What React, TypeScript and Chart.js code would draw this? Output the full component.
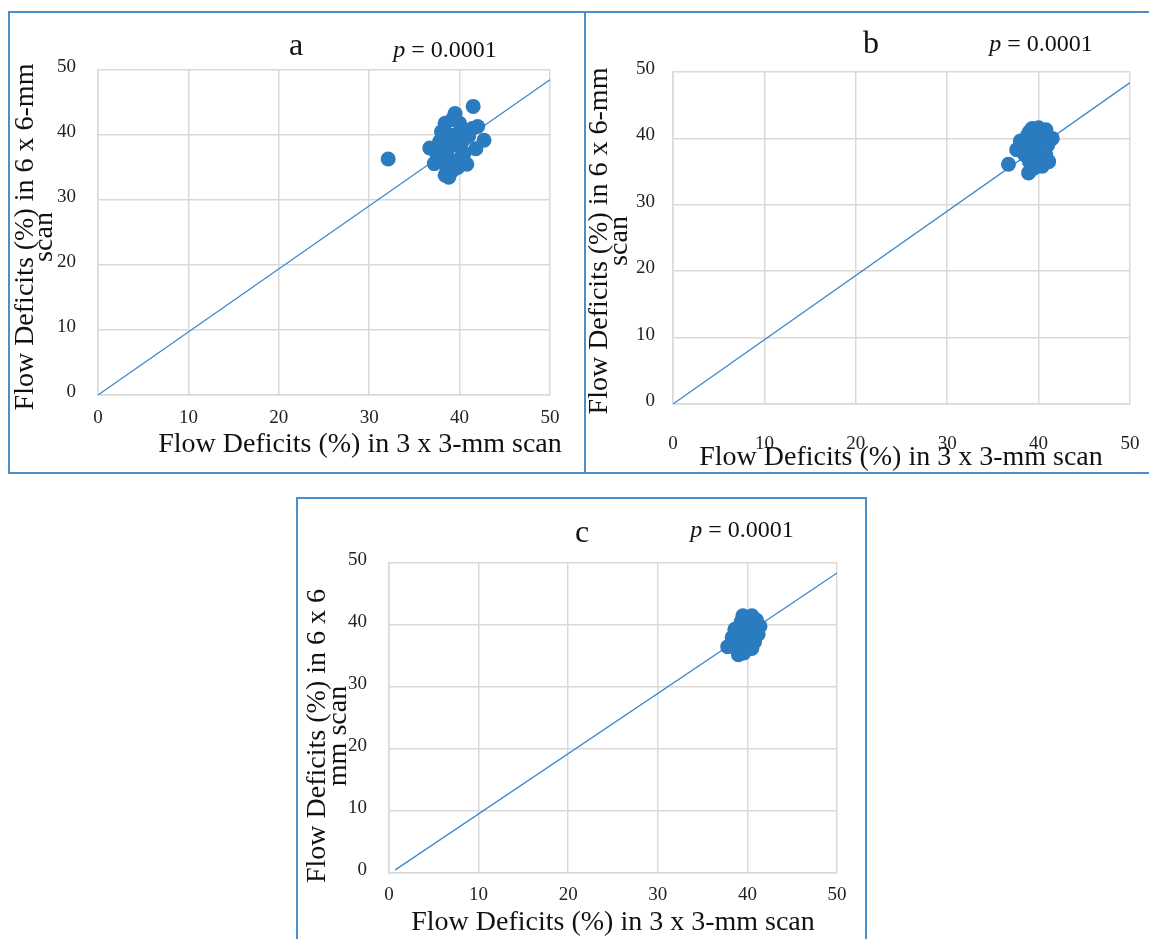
import React, { useEffect, useRef } from "react";
import { Chart, registerables } from "chart.js";

Chart.register(...registerables);

// ---------- data ----------
const tickValues = [0, 10, 20, 30, 40, 50];

const aX = [32.1, 41.5, 39.5, 39.2, 38.4, 38.0, 42.0, 41.4, 42.7, 41.8, 36.7, 37.8, 39.0, 40.0, 40.3, 39.5, 38.6, 40.5, 37.2, 38.0, 39.2, 40.1, 40.8, 38.6, 39.2, 38.4, 38.8, 39.8, 37.5, 40.0, 38.9, 41.0];
const aY = [36.3, 44.4, 43.3, 42.4, 41.8, 40.5, 41.3, 41.0, 39.2, 37.9, 38.0, 39.0, 40.0, 40.5, 39.0, 38.5, 37.5, 37.2, 35.6, 36.0, 36.0, 36.5, 35.5, 34.8, 34.5, 33.8, 33.5, 35.0, 37.0, 41.8, 39.2, 39.8];

const bX = [36.7, 37.6, 38.0, 38.8, 39.3, 40.0, 40.8, 41.5, 41.0, 40.8, 41.1, 40.4, 39.5, 38.9, 39.0, 38.5, 39.5, 40.0, 39.3, 40.2, 39.7, 38.6, 40.5, 39.0];
const bY = [36.1, 38.3, 39.6, 40.5, 41.5, 41.6, 41.3, 40.0, 39.0, 37.5, 36.5, 35.8, 35.5, 34.8, 36.5, 37.5, 38.0, 39.5, 39.8, 37.0, 40.5, 38.8, 40.5, 41.0];

const cX = [37.8, 38.3, 38.6, 39.3, 39.5, 40.5, 41.0, 41.4, 41.2, 40.8, 40.5, 39.6, 39.0, 38.8, 39.5, 40.0, 39.2, 40.2, 40.0, 39.7, 38.5];
const cY = [36.5, 38.0, 39.3, 40.5, 41.5, 41.5, 40.8, 39.8, 38.5, 37.3, 36.2, 35.5, 35.2, 36.8, 37.5, 38.8, 39.0, 40.0, 37.0, 36.3, 37.5];

const fitAX = [0, 50];
const fitAY = [0, 48.5];
const fitBX = [0, 50];
const fitBY = [0, 48.4];
const fitCX = [0.7, 50];
const fitCY = [0.5, 48.4];

const panelLetters = ["a", "b", "c"];
const pValueLabel = " = 0.0001";
const xTitle = "Flow Deficits (%) in 3 x 3-mm scan";
const yTitleAB = ["Flow Deficits (%) in 6 x 6-mm", "scan"];
const yTitleC = ["Flow Deficits (%) in 6 x 6", "mm scan"];

// ---------- styles ----------
const W = 1149;
const H = 939;
const FONT = '"Liberation Serif", "Times New Roman", serif';
const BLUE = "#2B7BBF";
const LINE_BLUE = "#3C8AD0";
const GRID = "#D9D9D9";
const BORDER_BLUE = "#4A8ECC";

type Layout = {
  l: number; r: number; t: number; b: number;
  yPad: number; xPad: number; xLineHeight: number;
  letterX: number; letterY: number;
  pX: number; pY: number;
  xTitleX: number; xTitleY: number;
  yBase: number[]; yCenter: number;
};

const layouts: Layout[] = [
  { l: 98, r: 550, t: 70, b: 395, yPad: 22, xPad: 12, xLineHeight: 1.2, letterX: 296, letterY: 55, pX: 445, pY: 57, xTitleX: 360, xTitleY: 452, yBase: [33, 52], yCenter: 237 },
  { l: 673, r: 1130, t: 72, b: 404, yPad: 18, xPad: 6, xLineHeight: 3.6, letterX: 871, letterY: 53, pX: 1041, pY: 51, xTitleX: 901, xTitleY: 465, yBase: [607, 627], yCenter: 241 },
  { l: 389, r: 837, t: 563, b: 873, yPad: 22, xPad: 11, xLineHeight: 1.2, letterX: 582, letterY: 542, pX: 742, pY: 537, xTitleX: 613, xTitleY: 930, yBase: [325, 346], yCenter: 736 },
];

const textPlugin = {
  id: "panelText",
  afterDraw(chart: any, _args: any, opts: any) {
    const ctx = chart.ctx as CanvasRenderingContext2D;
    ctx.save();
    ctx.fillStyle = "#111";
    ctx.textBaseline = "alphabetic";
    // letter
    ctx.font = `32px ${FONT}`;
    ctx.textAlign = "center";
    ctx.fillText(opts.letter, opts.letterX, opts.letterY);
    // p value
    ctx.font = `italic 24px ${FONT}`;
    const pw = ctx.measureText("p").width;
    ctx.font = `24px ${FONT}`;
    const rw = ctx.measureText(pValueLabel).width;
    const x0 = opts.pX - (pw + rw) / 2;
    ctx.textAlign = "left";
    ctx.font = `italic 24px ${FONT}`;
    ctx.fillText("p", x0, opts.pY);
    ctx.font = `24px ${FONT}`;
    ctx.fillText(pValueLabel, x0 + pw, opts.pY);
    // x title
    ctx.font = `28px ${FONT}`;
    ctx.textAlign = "center";
    ctx.fillText(opts.xTitle, opts.xTitleX, opts.xTitleY);
    // y title
    (opts.yLines as string[]).forEach((line, i) => {
      ctx.save();
      ctx.translate(opts.yBase[i], opts.yCenter);
      ctx.rotate(-Math.PI / 2);
      ctx.fillText(line, 0, 0);
      ctx.restore();
    });
    ctx.restore();
  },
};

const YW = 60;
const XH = 50;

function makeConfig(xs: number[], ys: number[], fx: number[], fy: number[], lay: Layout, letter: string, yLines: string[]): any {
  return {
    type: "scatter",
    data: {
      datasets: [
        {
          type: "scatter",
          data: xs.map((x, i) => ({ x, y: ys[i] })),
          backgroundColor: BLUE,
          borderWidth: 0,
          pointRadius: 7.5,
          order: 0,
        },
        {
          type: "line",
          data: fx.map((x, i) => ({ x, y: fy[i] })),
          borderColor: LINE_BLUE,
          borderWidth: 1.3,
          pointRadius: 0,
          fill: false,
          order: 1,
        },
      ],
    },
    options: {
      responsive: false,
      animation: false,
      layout: {
        padding: {
          left: lay.l - YW,
          top: lay.t,
          right: W - lay.r,
          bottom: H - lay.b - XH,
        },
      },
      plugins: {
        legend: { display: false },
        tooltip: { enabled: false },
        title: { display: false },
        panelText: {
          letter,
          letterX: lay.letterX, letterY: lay.letterY,
          pX: lay.pX, pY: lay.pY,
          xTitle, xTitleX: lay.xTitleX, xTitleY: lay.xTitleY,
          yLines, yBase: lay.yBase, yCenter: lay.yCenter,
        },
      },
      scales: {
        x: {
          type: "linear",
          min: 0,
          max: 50,
          afterFit: (s: any) => { s.height = XH; },
          afterBuildTicks: (s: any) => { s.ticks = tickValues.map((v) => ({ value: v })); },
          grid: { color: GRID, lineWidth: 1.5, drawTicks: false },
          border: { color: GRID, width: 1.5 },
          ticks: { padding: lay.xPad, color: "#222", font: { family: FONT, size: 19, lineHeight: lay.xLineHeight }, maxRotation: 0 },
        },
        y: {
          type: "linear",
          min: 0,
          max: 50,
          afterFit: (s: any) => { s.width = YW; },
          afterBuildTicks: (s: any) => { s.ticks = tickValues.map((v) => ({ value: v })); },
          grid: { color: GRID, lineWidth: 1.5, drawTicks: false },
          border: { color: GRID, width: 1.5 },
          ticks: { padding: lay.yPad, labelOffset: -3, color: "#222", font: { family: FONT, size: 19 } },
        },
      },
    },
    plugins: [textPlugin],
  };
}

function PanelChart({ config }: { config: any }) {
  const ref = useRef<HTMLCanvasElement>(null);
  useEffect(() => {
    if (!ref.current) return;
    const chart = new Chart(ref.current, config);
    return () => chart.destroy();
  }, [config]);
  return (
    <canvas
      ref={ref}
      width={W}
      height={H}
      style={{ position: "absolute", left: 0, top: 0, width: W, height: H }}
    />
  );
}

const configs = [
  makeConfig(aX, aY, fitAX, fitAY, layouts[0], panelLetters[0], yTitleAB),
  makeConfig(bX, bY, fitBX, fitBY, layouts[1], panelLetters[1], yTitleAB),
  makeConfig(cX, cY, fitCX, fitCY, layouts[2], panelLetters[2], yTitleC),
];

export default function App() {
  const box = (left: number, top: number, width: number, height: number): React.CSSProperties => ({
    position: "absolute",
    left,
    top,
    width,
    height,
    border: `2px solid ${BORDER_BLUE}`,
    boxSizing: "border-box",
  });
  return (
    <div style={{ position: "absolute", left: 0, top: 0, width: W, height: H, overflow: "hidden", background: "#fff" }}>
      <div style={box(8, 11, 578, 463)} />
      <div style={box(584, 11, 600, 463)} />
      <div style={box(296, 497, 571, 480)} />
      {configs.map((c, i) => (
        <PanelChart key={i} config={c} />
      ))}
    </div>
  );
}
